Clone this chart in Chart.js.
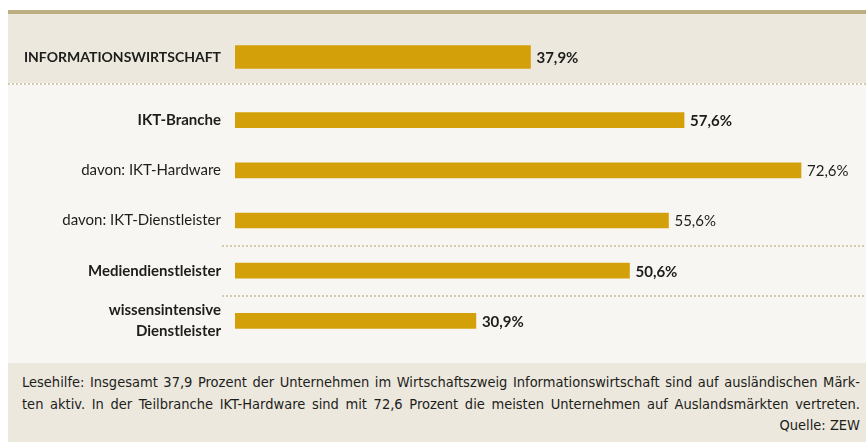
<!DOCTYPE html>
<html>
<head>
<meta charset="utf-8">
<script src="https://cdn.jsdelivr.net/npm/chart.js@4"></script>
<style>
  html, body { margin: 0; padding: 0; background: #fff; }
  body { width: 866px; height: 442px; position: relative; overflow: hidden; }
  .stripe { position: absolute; left: 8px; top: 10px; width: 858px; height: 4px; background: #bcad83; }
  .head { position: absolute; left: 8px; top: 14px; width: 858px; height: 69px; background: #ece8dd; }
  .sep { position: absolute; left: 8px; top: 83px; width: 858px; height: 2px;
         background: repeating-linear-gradient(90deg, #d6cbad 0 2px, transparent 2px 4px); }
  .main { position: absolute; left: 8px; top: 85px; width: 858px; height: 278px; background: #f7f6f2; }
  .foot { position: absolute; left: 8px; top: 363px; width: 858px; height: 79px; background: #ece8dd; }
  .foot p { margin: 0; position: absolute; left: 14px; width: 838px; font-family: "Liberation Sans Narrow", "DejaVu Sans Condensed", sans-serif;
            font-size: 14.5px; color: #1d1d1b; text-align: justify; text-align-last: justify; white-space: nowrap; }
  .foot p.src { text-align: right; text-align-last: right; }
  canvas { position: absolute; left: 0; }
</style>
</head>
<body>
<div class="stripe"></div>
<div class="head"></div>
<div class="sep"></div>
<div class="main"></div>
<div class="foot">
  <p style="top:11px">Lesehilfe: Insgesamt 37,9 Prozent der Unternehmen im Wirtschaftszweig Informationswirtschaft sind auf ausländischen Märk-</p>
  <p style="top:33px">ten aktiv. In der Teilbranche IKT-Hardware sind mit 72,6 Prozent die meisten Unternehmen auf Auslandsmärkten vertreten.</p>
  <p class="src" style="top:54px">Quelle: ZEW</p>
</div>
<div style="position:absolute;left:0;top:14px;width:866px;height:86px"><canvas id="head"></canvas></div>
<div style="position:absolute;left:0;top:60px;width:866px;height:320px"><canvas id="main"></canvas></div>
<script>
const headCategories = ['INFORMATIONSWIRTSCHAFT'];
const headValues = [37.9];
const categories = ['IKT-Branche', 'davon: IKT-Hardware', 'davon: IKT-Dienstleister', 'Mediendienstleister', ['wissensintensive', 'Dienstleister']];
const values = [57.6, 72.6, 55.6, 50.6, 30.9];
const boldRows = [true, false, false, true, true];
const xMax = 80;

const BAR = '#d4a00a';
const INK = '#1d1d1b';
const fmt = v => v.toFixed(1).replace('.', ',') + '%';

// percentage text right of each bar
const valueLabels = {
  id: 'valueLabels',
  afterDatasetsDraw(chart, args, opts) {
    const ctx = chart.ctx;
    const meta = chart.getDatasetMeta(0);
    ctx.save();
    ctx.fillStyle = INK;
    ctx.textBaseline = 'middle';
    meta.data.forEach((bar, i) => {
      ctx.font = (opts.bold[i] ? 'bold ' : '') + '15px Lato';
      ctx.fillText(fmt(chart.data.datasets[0].data[i]), bar.x + 6, bar.y + 1);
    });
    ctx.restore();
  }
};

// dotted lines between groups of rows
const separators = {
  id: 'separators',
  beforeDatasetsDraw(chart, args, opts) {
    const ctx = chart.ctx;
    const y = chart.scales.y;
    ctx.save();
    ctx.strokeStyle = '#d6cbad';
    ctx.lineWidth = 2;
    ctx.setLineDash([2, 2]);
    opts.after.forEach(i => {
      const py = Math.round((y.getPixelForValue(i) + y.getPixelForValue(i + 1)) / 2);
      ctx.beginPath();
      ctx.moveTo(222, py);
      ctx.lineTo(chart.width, py);
      ctx.stroke();
    });
    ctx.restore();
  }
};

function makeChart(id, labels, data, opts) {
  return new Chart(document.getElementById(id), {
    type: 'bar',
    data: {
      labels: labels,
      datasets: [{ data: data, backgroundColor: BAR, barThickness: opts.thickness, borderWidth: 0 }]
    },
    options: {
      indexAxis: 'y',
      responsive: true,
      maintainAspectRatio: false,
      animation: false,
      layout: { padding: { left: 0, right: 866 - 235 - xMax * 7.796, top: opts.top, bottom: opts.bottom } },
      plugins: {
        legend: { display: false },
        tooltip: { enabled: false },
        valueLabels: { bold: opts.bold },
        separators: { after: opts.separators || [] }
      },
      scales: {
        x: { min: 0, max: xMax, display: false },
        y: {
          border: { display: false },
          grid: { display: true, drawOnChartArea: false, drawTicks: true, tickLength: 14, color: 'rgba(0,0,0,0)' },
          afterFit: s => { s.width = 235; },
          ticks: {
            padding: 0,
            color: INK,
            font: opts.tickFont
          }
        }
      }
    },
    plugins: [valueLabels, separators]
  });
}

makeChart('head', headCategories, headValues, {
  thickness: 23, top: 17, bottom: 17, bold: [true],
  tickFont: { family: 'Lato', size: 14, weight: 'bold' }
});

makeChart('main', categories, values, {
  thickness: 15, top: 35, bottom: 34, bold: boldRows, separators: [2, 3],
  tickFont: c => ({ family: 'Lato', size: 15, weight: boldRows[c.index] ? 'bold' : 'normal', lineHeight: 1.4 })
});
</script>
</body>
</html>
